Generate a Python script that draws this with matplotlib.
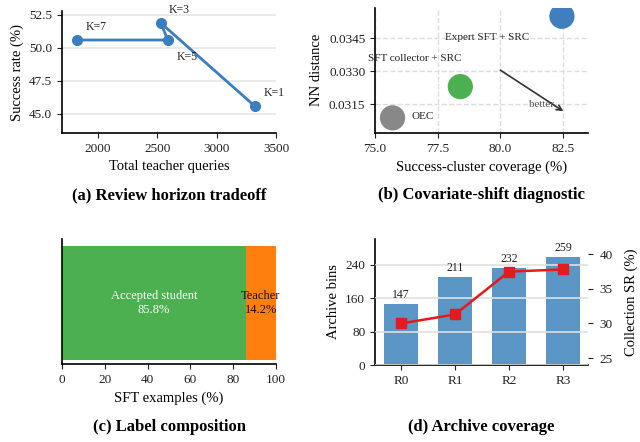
import numpy as np
import matplotlib.pyplot as plt

plt.rcParams['font.family'] = ['Liberation Serif', 'DejaVu Serif']
plt.rcParams['font.size'] = 9.5
plt.rcParams['axes.linewidth'] = 1.2
plt.rcParams['xtick.labelsize'] = 9.5
plt.rcParams['ytick.labelsize'] = 9.5
plt.rcParams['axes.labelsize'] = 10.5

# (a) review horizon
horizon_k = [7, 5, 3, 1]
teacher_queries = [1830, 2590, 2530, 3320]
success_rate = [50.6, 50.6, 51.9, 45.6]

# (b) covariate shift
methods = ['OEC', 'SFT collector + SRC', 'Expert SFT + SRC']
coverage = [75.7, 78.4, 82.45]
nn_dist = [0.03089, 0.03231, 0.03551]
method_colors = ['#888888', '#4caf50', '#3f7fbf']

# (c) label composition
label_names = ['Accepted student', 'Teacher']
label_share = [85.8, 14.2]

# (d) archive coverage
rounds = ['R0', 'R1', 'R2', 'R3']
archive_bins = [147, 211, 232, 259]
collection_sr = [30.0, 31.3, 37.5, 37.8]

fig = plt.figure(figsize=(6.4, 4.42), dpi=100)
ax_a = fig.add_axes([0.0969, 0.6991, 0.3344, 0.276])
ax_b = fig.add_axes([0.5859, 0.6991, 0.3333, 0.2835])
ax_c = fig.add_axes([0.0969, 0.1765, 0.3344, 0.2828])
ax_d = fig.add_axes([0.5859, 0.1742, 0.3328, 0.285])

for ax in [ax_a, ax_b, ax_c, ax_d]:
    ax.spines['top'].set_visible(False)
    ax.spines['right'].set_visible(False)
    ax.tick_params(colors='#222222')

# ---- (a)
ax_a.plot(teacher_queries, success_rate, '-o', color='#3a7ebf', lw=2, ms=7, zorder=3)
offsets = {7: (6, 9.5), 5: (6, -12), 3: (6, 9.5), 1: (6.5, 9.5)}
for k, x, y in zip(horizon_k, teacher_queries, success_rate):
    ax_a.annotate(f'K={k}', (x, y), xytext=offsets[k], textcoords='offset points',
                  ha='left', va='center', fontsize=8.5, color='#222222')
ax_a.set_xlim(1700, 3500)
ax_a.set_ylim(43.55, 52.8)
ax_a.set_xticks([2000, 2500, 3000, 3500])
ax_a.set_yticks([45.0, 47.5, 50.0, 52.5])
ax_a.yaxis.grid(True, color='#e6e6e6', lw=1.2)
ax_a.set_axisbelow(True)
ax_a.set_xlabel('Total teacher queries')
ax_a.set_ylabel('Success rate (%)')

# ---- (b)
ax_b.scatter(coverage, nn_dist, s=330, c=method_colors, zorder=3, edgecolors='none')
label_off = [(13.5, 1, 'left'), (-33, 20, 'center'), (-54, -15, 'center')]
for name, x, y, (dx, dy, ha) in zip(methods, coverage, nn_dist, label_off):
    ax_b.annotate(name, (x, y), xytext=(dx, dy), textcoords='offset points',
                  ha=ha, va='center', fontsize=8, color='#222222')
ax_b.annotate('', xy=(82.6, 0.03112), xytext=(79.9, 0.03313),
              arrowprops=dict(arrowstyle='->', color='#333333', lw=1.2))
ax_b.text(81.64, 0.0315, 'better', fontsize=8, color='#555555', ha='center', va='center')
ax_b.set_xlim(75.0, 83.5)
ax_b.set_ylim(0.0302, 0.0359)
ax_b.set_xticks([75.0, 77.5, 80.0, 82.5])
ax_b.set_yticks([0.0315, 0.0330, 0.0345])
ax_b.set_yticklabels(['0.0315', '0.0330', '0.0345'])
ax_b.grid(True, ls='--', color='#dddddd', lw=1)
ax_b.set_axisbelow(True)
ax_b.set_xlabel('Success-cluster coverage (%)')
ax_b.set_ylabel('NN distance')

# ---- (c)
ax_c.barh(0, label_share[0], height=1.0, color='#4caf50')
ax_c.barh(0, label_share[1], left=label_share[0], height=1.0, color='#ff7f0e')
ax_c.text(label_share[0] / 2, 0, f'{label_names[0]}\n{label_share[0]}%', ha='center',
          va='center', color='white', fontsize=9)
ax_c.text(label_share[0] + label_share[1] / 2, 0, f'{label_names[1]}\n{label_share[1]}%',
          ha='center', va='center', color='#111111', fontsize=9)
ax_c.set_xlim(0, 100)
ax_c.set_ylim(-0.535, 0.56)
ax_c.set_yticks([])
ax_c.set_xticks([0, 20, 40, 60, 80, 100])
ax_c.set_xlabel('SFT examples (%)')

# ---- (d)
xpos = np.arange(len(rounds))
ax_d.bar(xpos, archive_bins, width=0.64, color='#5b96c6', zorder=1)
for x, v in zip(xpos, archive_bins):
    ax_d.annotate(str(v), (x, v), xytext=(0, 2), textcoords='offset points',
                  ha='center', va='bottom', fontsize=8.5, color='#222222')
ax_d.set_xlim(-0.48, 3.46)
ax_d.set_ylim(0, 302)
ax_d.set_yticks([0, 80, 160, 240])
ax_d.set_xticks(xpos)
ax_d.set_xticklabels(rounds)
ax_d.yaxis.grid(True, color='#e0e0e0', lw=1.2, zorder=2)
ax_d.set_axisbelow(False)
ax_d.set_ylabel('Archive bins')

ax_d2 = ax_d.twinx()
ax_d2.plot(xpos, collection_sr, '-s', color='#e41a1c', lw=1.8, ms=6.5)
ax_d2.set_ylim(24.0, 42.2)
ax_d2.set_yticks([25, 30, 35, 40])
for s in ax_d2.spines.values():
    s.set_visible(False)
ax_d2.tick_params(colors='#222222', pad=5)
ax_d2.set_ylabel('Collection SR (%)', labelpad=8)

# panel titles
for ax, title, y in [(ax_a, '(a) Review horizon tradeoff', 0.5588),
                     (ax_b, '(b) Covariate-shift diagnostic', 0.5588),
                     (ax_c, '(c) Label composition', 0.0346),
                     (ax_d, '(d) Archive coverage', 0.0346)]:
    pos = ax.get_position()
    fig.text(pos.x0 + pos.width / 2, y, title, ha='center', va='center',
             fontsize=12, fontweight='bold')

fig.savefig('out.png', dpi=100)
